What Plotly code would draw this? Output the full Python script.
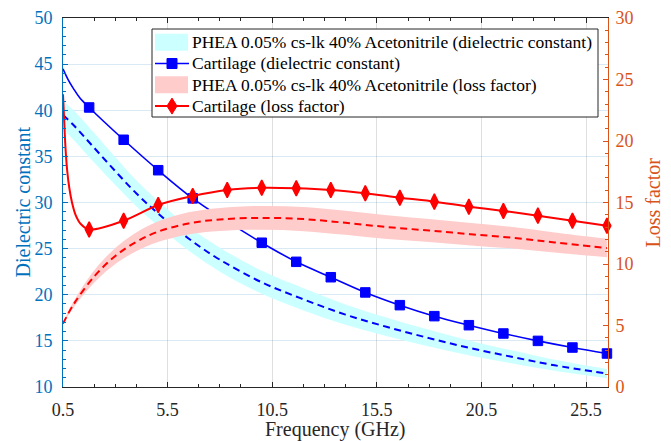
import plotly.graph_objects as go

# ---------------- data ----------------
FREQ_MARK = [1.75, 3.40, 5.05, 6.70, 8.35, 10.00, 11.65, 13.30,
             14.95, 16.60, 18.25, 19.90, 21.55, 23.20, 24.85, 26.50]
CART_EPS_MARK = [40.3, 36.8, 33.5, 30.45, 27.95, 25.64, 23.57, 21.9,
                 20.25, 18.87, 17.68, 16.7, 15.8, 15.0, 14.28, 13.63]
CART_LOSS_MARK = [12.8, 13.52, 14.8, 15.53, 16.02, 16.2, 16.16, 16.02,
                  15.75, 15.39, 15.07, 14.66, 14.31, 13.93, 13.52, 13.11]
CART_EPS_HEAD_X = [0.5, 0.6, 0.75, 1.0, 1.3]
CART_EPS_HEAD = [44.5, 44.0, 43.3, 42.35, 41.35]
CART_LOSS_HEAD_X = [0.5, 0.56, 0.62, 0.7, 0.8, 0.93, 1.1, 1.35]
CART_LOSS_HEAD = [23.8, 21.5, 19.4, 17.6, 16.2, 15.0, 14.0, 13.25]

BAND_X = [0.5, 1, 2, 3, 4, 5, 6.5, 8, 10, 12, 14, 16, 18, 20, 22, 24, 26.5]
PHEA_EPS_MEAN = [39.5, 38.4, 35.9, 33.4, 31.0, 28.9, 26.1, 23.8, 21.35, 19.5,
                 17.85, 16.5, 15.3, 14.2, 13.25, 12.35, 11.45]
PHEA_EPS_UPPER = [41.0, 40.0, 37.5, 34.9, 32.4, 30.25, 27.4, 25.1, 22.6, 20.7,
                  18.95, 17.5, 16.2, 15.0, 13.95, 12.95, 11.95]
PHEA_EPS_LOWER = [38.0, 36.8, 34.3, 31.9, 29.6, 27.55, 24.8, 22.5, 20.1, 18.3,
                  16.75, 15.5, 14.4, 13.4, 12.55, 11.75, 10.95]
PHEA_LOSS_MEAN = [5.15, 6.7, 9.0, 10.65, 11.8, 12.6, 13.3, 13.62, 13.75, 13.65,
                  13.35, 13.0, 12.72, 12.42, 12.13, 11.75, 11.3]
PHEA_LOSS_UPPER = [5.2, 6.95, 9.5, 11.3, 12.57, 13.44, 14.2, 14.56, 14.72, 14.63,
                   14.33, 13.97, 13.66, 13.33, 13.0, 12.57, 12.05]
PHEA_LOSS_LOWER = [5.1, 6.45, 8.5, 10.0, 11.03, 11.76, 12.4, 12.68, 12.78, 12.67,
                   12.37, 12.03, 11.78, 11.51, 11.26, 10.93, 10.55]

X_TICKS = [0.5, 5.5, 10.5, 15.5, 20.5, 25.5]
X_TICK_LABELS = ["0.5", "5.5", "10.5", "15.5", "20.5", "25.5"]
X_MINOR = [2, 3, 4, 7, 8, 9, 12, 13, 14, 17, 18, 19, 22, 23, 24]
Y1_TICKS = [10, 15, 20, 25, 30, 35, 40, 45, 50]
Y2_TICKS = [0, 5, 10, 15, 20, 25, 30]

X_TITLE = "Frequency (GHz)"
Y1_TITLE = "Dielectric constant"
Y2_TITLE = "Loss factor"
LEGEND_LABELS = [
    "PHEA 0.05% cs-lk 40% Acetonitrile (dielectric constant)",
    "Cartilage (dielectric constant)",
    "PHEA 0.05% cs-lk 40% Acetonitrile (loss factor)",
    "Cartilage (loss factor)",
]

# ---------------- styles ----------------
FONT = "Liberation Serif"
BLUE_AX = "#0072BD"
ORANGE_AX = "#D95319"
DARK = "#262626"
CYAN_FILL = "#CCFFFF"
PINK_FILL = "#FFCCCC"
BLUE = "#0000FF"
RED = "#FF0000"
DASH = "7px,4.5px"

# the page body has an 8 px margin, so the figure is 8 px smaller than the window
W, H = 663, 433
ML, MR, MT, MB = 55, 63, 10, 54
PW, PH = W - ML - MR, H - MT - MB
OFF = 8


def fx(px):
    """reference window pixel x -> paper fraction"""
    return (px - OFF - ML) / PW


def fy(py):
    """reference window pixel y -> paper fraction"""
    return (MT + PH - (py - OFF)) / PH


fig = go.Figure()

# left axis: PHEA dielectric band + mean, cartilage dielectric
fig.add_trace(go.Scatter(x=BAND_X, y=PHEA_EPS_LOWER, mode="lines",
                         line=dict(width=0, shape="spline"), showlegend=False,
                         hoverinfo="skip"))
fig.add_trace(go.Scatter(x=BAND_X, y=PHEA_EPS_UPPER, mode="lines", fill="tonexty",
                         fillcolor=CYAN_FILL, line=dict(width=0, shape="spline"),
                         showlegend=False))
fig.add_trace(go.Scatter(x=BAND_X, y=PHEA_EPS_MEAN, mode="lines",
                         line=dict(color=BLUE, width=2, dash=DASH, shape="spline"),
                         showlegend=False))
fig.add_trace(go.Scatter(x=CART_EPS_HEAD_X + FREQ_MARK, y=CART_EPS_HEAD + CART_EPS_MARK,
                         mode="lines", line=dict(color=BLUE, width=1.6, shape="spline"),
                         showlegend=False))
fig.add_trace(go.Scatter(x=FREQ_MARK, y=CART_EPS_MARK, mode="markers", cliponaxis=False,
                         marker=dict(symbol="square", size=9.5, color=BLUE,
                                     line=dict(color=BLUE, width=1)),
                         showlegend=False))

# right axis: PHEA loss band + mean, cartilage loss
fig.add_trace(go.Scatter(x=BAND_X, y=PHEA_LOSS_LOWER, yaxis="y2", mode="lines",
                         line=dict(width=0, shape="spline"), showlegend=False,
                         hoverinfo="skip"))
fig.add_trace(go.Scatter(x=BAND_X, y=PHEA_LOSS_UPPER, yaxis="y2", mode="lines",
                         fill="tonexty", fillcolor=PINK_FILL,
                         line=dict(width=0, shape="spline"), showlegend=False))
fig.add_trace(go.Scatter(x=BAND_X, y=PHEA_LOSS_MEAN, yaxis="y2", mode="lines",
                         line=dict(color=RED, width=2, dash=DASH, shape="spline"),
                         showlegend=False))
fig.add_trace(go.Scatter(x=CART_LOSS_HEAD_X + FREQ_MARK, y=CART_LOSS_HEAD + CART_LOSS_MARK,
                         yaxis="y2", mode="lines",
                         line=dict(color=RED, width=2, shape="spline", smoothing=0.8),
                         showlegend=False))
fig.add_trace(go.Scatter(x=FREQ_MARK, y=CART_LOSS_MARK, yaxis="y2", mode="markers",
                         cliponaxis=False,
                         marker=dict(symbol="diamond-tall", size=11, color=RED,
                                     line=dict(color=RED, width=1.5)),
                         showlegend=False))

# ---------------- manual legend (MATLAB style) ----------------
shapes = []
annotations = []
shapes.append(dict(type="rect", xref="paper", yref="paper", layer="above",
                   x0=fx(152), x1=fx(598), y0=fy(117), y1=fy(29),
                   fillcolor="white", line=dict(color=DARK, width=1)))
row_y = [42.2, 63.5, 84.8, 106.1]
shapes.append(dict(type="rect", xref="paper", yref="paper", layer="above",
                   x0=fx(155), x1=fx(188), y0=fy(row_y[0] + 8.5), y1=fy(row_y[0] - 8.5),
                   fillcolor=CYAN_FILL, line=dict(width=0)))
shapes.append(dict(type="line", xref="paper", yref="paper", layer="above",
                   x0=fx(155), x1=fx(189), y0=fy(row_y[1]), y1=fy(row_y[1]),
                   line=dict(color=BLUE, width=1.6)))
shapes.append(dict(type="rect", xref="paper", yref="paper", layer="above",
                   x0=fx(167), x1=fx(177), y0=fy(row_y[1] + 5), y1=fy(row_y[1] - 5),
                   fillcolor=BLUE, line=dict(color=BLUE, width=1)))
shapes.append(dict(type="rect", xref="paper", yref="paper", layer="above",
                   x0=fx(155), x1=fx(188), y0=fy(row_y[2] + 8.5), y1=fy(row_y[2] - 8.5),
                   fillcolor=PINK_FILL, line=dict(width=0)))
shapes.append(dict(type="line", xref="paper", yref="paper", layer="above",
                   x0=fx(155), x1=fx(189), y0=fy(row_y[3]), y1=fy(row_y[3]),
                   line=dict(color=RED, width=2)))
cx, cy = 172, row_y[3]
dpath = "M{:.5f},{:.5f} L{:.5f},{:.5f} L{:.5f},{:.5f} L{:.5f},{:.5f} Z".format(
    fx(cx), fy(cy - 8), fx(cx + 5), fy(cy), fx(cx), fy(cy + 8), fx(cx - 5), fy(cy))
shapes.append(dict(type="path", xref="paper", yref="paper", layer="above", path=dpath,
                   fillcolor=RED, line=dict(color=RED, width=1)))
for label, ry in zip(LEGEND_LABELS, row_y):
    annotations.append(dict(xref="paper", yref="paper", x=fx(190), y=fy(ry),
                            xanchor="left", yanchor="middle", text=label,
                            showarrow=False, font=dict(family=FONT, size=17.5, color="#000000")))

# axis titles placed like MATLAB's labels
annotations.append(dict(xref="paper", yref="paper", x=0.5, y=fy(429.5),
                        xanchor="center", yanchor="middle", text=X_TITLE, showarrow=False,
                        font=dict(family=FONT, size=20, color=DARK)))
annotations.append(dict(xref="paper", yref="paper", x=fx(22), y=0.5, textangle=-90,
                        xanchor="center", yanchor="middle", text=Y1_TITLE, showarrow=False,
                        font=dict(family=FONT, size=20, color=BLUE_AX)))
annotations.append(dict(xref="paper", yref="paper", x=fx(652), y=0.5, textangle=-90,
                        xanchor="center", yanchor="middle", text=Y2_TITLE, showarrow=False,
                        font=dict(family=FONT, size=20, color=ORANGE_AX)))

fig.update_layout(
    width=W, height=H,
    margin=dict(l=ML, r=MR, t=MT, b=MB, pad=0, autoexpand=False),
    paper_bgcolor="white", plot_bgcolor="white",
    font=dict(family=FONT, size=18, color=DARK),
    showlegend=False,
    shapes=shapes,
    annotations=annotations,
    xaxis=dict(
        range=[0.5, 26.55], tickmode="array", tickvals=X_TICKS, ticktext=X_TICK_LABELS,
        ticks="inside", ticklen=5, tickwidth=1, tickcolor=DARK,
        showline=True, linecolor=DARK, linewidth=1, mirror="ticks",
        showgrid=True, gridcolor="rgba(38,38,38,0.15)", gridwidth=1, zeroline=False,
        minor=dict(tickmode="array", tickvals=X_MINOR, ticks="inside", ticklen=3,
                   tickcolor=DARK, showgrid=False),
        tickfont=dict(family=FONT, size=18, color=DARK),
        ticklabelstandoff=6, automargin=False,
    ),
    yaxis=dict(
        range=[10, 50], tickmode="array", tickvals=Y1_TICKS,
        ticks="inside", ticklen=5, tickwidth=1, tickcolor=BLUE_AX,
        showline=True, linecolor=BLUE_AX, linewidth=1,
        showgrid=True, gridcolor="rgba(0,114,189,0.15)", gridwidth=1, zeroline=False,
        minor=dict(dtick=1, ticks="inside", ticklen=3, tickcolor=BLUE_AX, showgrid=False),
        tickfont=dict(family=FONT, size=18, color=BLUE_AX),
        ticklabelstandoff=6, automargin=False,
    ),
    yaxis2=dict(
        range=[0, 30], overlaying="y", side="right", tickmode="array", tickvals=Y2_TICKS,
        ticks="inside", ticklen=5, tickwidth=1, tickcolor=ORANGE_AX,
        showline=True, linecolor=ORANGE_AX, linewidth=1,
        showgrid=False, zeroline=False,
        minor=dict(dtick=1, ticks="inside", ticklen=3, tickcolor=ORANGE_AX, showgrid=False),
        tickfont=dict(family=FONT, size=18, color=ORANGE_AX),
        ticklabelstandoff=3, automargin=False,
    ),
)

fig.write_html("out.html")
